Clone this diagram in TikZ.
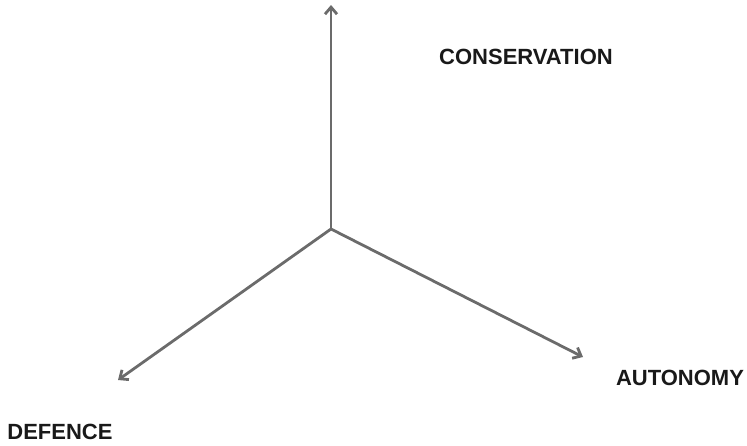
\documentclass[tikz,border=0pt]{standalone}
\usepackage{fontspec}
\setmainfont{Liberation Sans}
\usetikzlibrary{arrows.meta}
\begin{document}
\begin{tikzpicture}[x=1pt,y=-1pt,
  axis/.style={draw=black!58,line width=2.8pt,-{Straight Barb[length=7pt,width=12pt]}},
  lbl/.style={font=\fontsize{22}{24}\selectfont\bfseries,text=black!90,inner sep=0pt}]
\useasboundingbox (0,0) rectangle (747,445);
\coordinate (o) at (331,229);
\coordinate (up) at (331,5);
\coordinate (dl) at (118,380);
\coordinate (dr) at (583,357);
\draw[axis] (o) -- (up);
\draw[axis] (o) -- (dl);
\draw[axis] (o) -- (dr);
\node[lbl] (cons) at (526,57) {CONSERVATION};
\node[lbl] (auto) at (680,378) {AUTONOMY};
\node[lbl] (def) at (60,432) {DEFENCE};
\end{tikzpicture}
\end{document}
